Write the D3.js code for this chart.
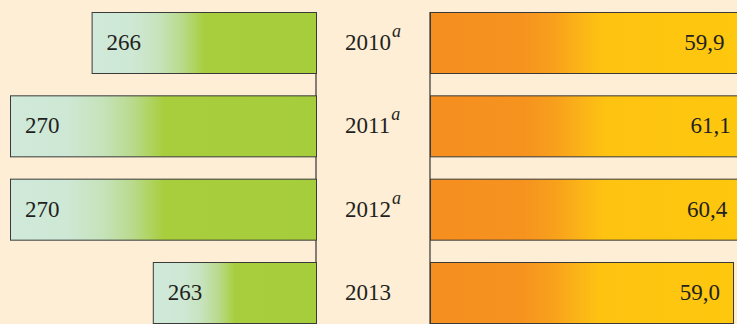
<!DOCTYPE html>
<html>
<head>
<meta charset="utf-8">
<script src="https://cdn.jsdelivr.net/npm/d3@7"></script>
<style>
  html, body { margin: 0; padding: 0; background: #fdeed5; overflow: hidden; }
  svg { display: block; }
  text { font-family: "Liberation Serif", "Times New Roman", "DejaVu Serif", serif; }
</style>
</head>
<body>
<svg id="chart" width="737" height="324"></svg>
<script>
const years = ["2010", "2011", "2012", "2013"];
const yearNotes = ["a", "a", "a", ""];
const leftValues = [266, 270, 270, 263];
const leftLabels = ["266", "270", "270", "263"];
const rightValues = [59.9, 61.1, 60.4, 59.0];
const rightLabels = ["59,9", "61,1", "60,4", "59,0"];

const W = 737, H = 324;
const svg = d3.select("#chart");
svg.append("rect").attr("width", W).attr("height", H).attr("fill", "#fdeed5");

const defs = svg.append("defs");
const gGreen = defs.append("linearGradient").attr("id", "gGreen").attr("x1", 0).attr("x2", 1).attr("y1", 0).attr("y2", 0);
[[0, "#d0e9da"], [0.18, "#cee8d5"], [0.3, "#c6e3bb"], [0.4, "#b9da8c"], [0.5, "#a8ce3e"], [1, "#a6cd3c"]]
  .forEach(([o, c]) => gGreen.append("stop").attr("offset", o).attr("stop-color", c));
const gOrange = defs.append("linearGradient").attr("id", "gOrange").attr("x1", 0).attr("x2", 1).attr("y1", 0).attr("y2", 0);
[[0, "#f58f20"], [0.3, "#f6931f"], [0.4, "#f8a01c"], [0.49, "#fbb517"], [0.56, "#fec311"], [1, "#fec80e"]]
  .forEach(([o, c]) => gOrange.append("stop").attr("offset", o).attr("stop-color", c));

const y = d3.scaleBand().domain(years).range([12, 323]).paddingInner(0.268).paddingOuter(0);
const xL = d3.scaleLinear().domain([255, 270]).range([316, 10]);
const xR = d3.scaleLinear().domain([0, 59]).range([430, 733]);

const leftData = years.map((yr, i) => ({ yr, v: leftValues[i], label: leftLabels[i] }));
const rightData = years.map((yr, i) => ({ yr, v: rightValues[i], label: rightLabels[i] }));

// axis lines
svg.append("line").attr("x1", xL(255)).attr("x2", xL(255)).attr("y1", y(years[0])).attr("y2", H)
  .attr("stroke", "#333").attr("stroke-width", 1.2);
svg.append("line").attr("x1", xR(0)).attr("x2", xR(0)).attr("y1", y(years[0])).attr("y2", H)
  .attr("stroke", "#333").attr("stroke-width", 1.2);

// left bars
svg.selectAll(".lbar").data(leftData).join("rect")
  .attr("class", "lbar")
  .attr("x", d => xL(d.v) + 0.5)
  .attr("y", d => y(d.yr) + 0.5)
  .attr("width", d => xL(255) - xL(d.v))
  .attr("height", y.bandwidth())
  .attr("fill", "url(#gGreen)")
  .attr("stroke", "#3a3a3a").attr("stroke-width", 1);

// right bars
svg.selectAll(".rbar").data(rightData).join("rect")
  .attr("class", "rbar")
  .attr("x", xR(0) + 0.5)
  .attr("y", d => y(d.yr) + 0.5)
  .attr("width", d => xR(d.v) - xR(0))
  .attr("height", y.bandwidth())
  .attr("fill", "url(#gOrange)")
  .attr("stroke", "#3a3a3a").attr("stroke-width", 1);

svg.selectAll(".llab").data(leftData).join("text")
  .attr("class", "llab")
  .attr("x", d => xL(d.v) + 15)
  .attr("y", d => y(d.yr) + y.bandwidth() / 2 + 7.5)
  .attr("font-size", 23).attr("fill", "#231f20")
  .text(d => d.label);

svg.selectAll(".rlab").data(rightData).join("text")
  .attr("class", "rlab")
  .attr("x", d => xR(d.v) - 13)
  .attr("y", d => y(d.yr) + y.bandwidth() / 2 + 7.5)
  .attr("text-anchor", "end")
  .attr("font-size", 23).attr("fill", "#231f20")
  .text(d => d.label);

const yl = svg.selectAll(".ylab").data(years).join("text")
  .attr("class", "ylab")
  .attr("x", 345)
  .attr("y", d => y(d) + y.bandwidth() / 2 + 7.5)
  .attr("font-size", 23).attr("fill", "#231f20");
yl.append("tspan").text(d => d);
yl.append("tspan")
  .attr("dy", -13).attr("dx", 1)
  .attr("font-style", "italic").attr("font-size", 18)
  .text((d, i) => yearNotes[i]);
</script>
</body>
</html>
